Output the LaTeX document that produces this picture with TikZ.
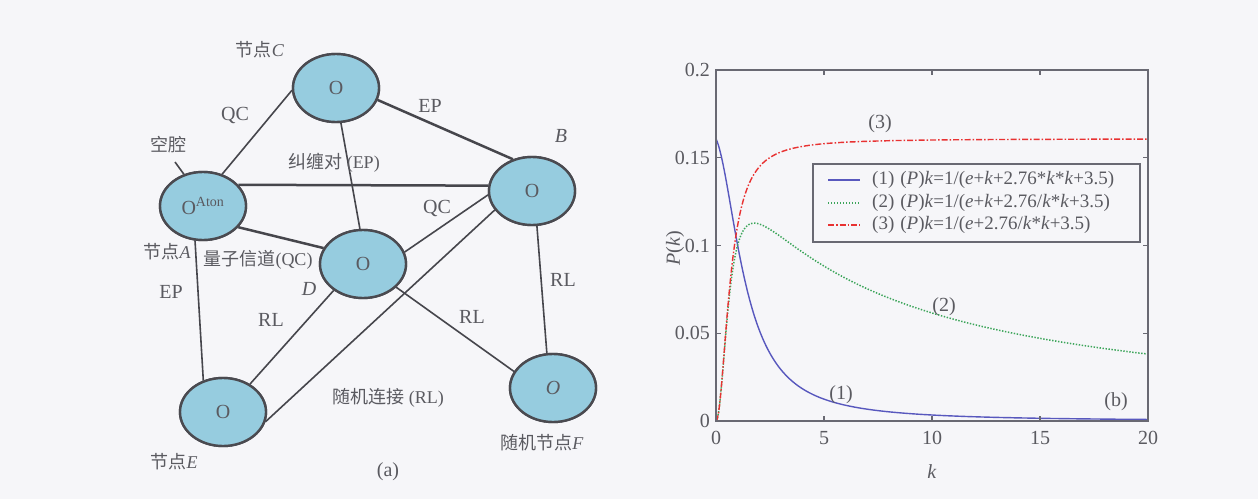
\documentclass[tikz,border=0pt]{standalone}
\usepackage{fontspec}
\setmainfont{Liberation Serif}
\newfontfamily\cjk{Noto Sans CJK SC}
\usetikzlibrary{shapes.geometric}
\definecolor{bg}{RGB}{246,246,249}
\definecolor{nodefill}{RGB}{150,204,223}
\definecolor{nodeedge}{RGB}{74,74,80}
\definecolor{edgecol}{RGB}{70,70,76}
\definecolor{txt}{RGB}{90,90,96}
\definecolor{frame}{RGB}{105,105,115}
\definecolor{cblue}{RGB}{88,88,190}
\definecolor{cgreen}{RGB}{60,165,90}
\definecolor{cred}{RGB}{232,50,50}
\tikzset{
  qnode/.style={ellipse, draw=nodeedge, line width=2.4pt, fill=nodefill,
    minimum width=86pt, minimum height=68pt, inner sep=0pt,
    font=\fontsize{20}{24}\selectfont, text=txt},
  thinedge/.style={draw=edgecol, line width=1.6pt},
  thickedge/.style={draw=edgecol, line width=2.5pt},
  lab/.style={text=txt, font=\fontsize{20}{24}\selectfont, inner sep=0pt},
  cjlab/.style={text=txt, font=\fontsize{18}{22}\selectfont, inner sep=0pt},
  ticklab/.style={text=txt, font=\fontsize{20}{24}\selectfont, inner sep=0pt},
  leglab/.style={text=txt, font=\fontsize{19}{22}\selectfont, inner sep=0pt, anchor=west},
  axframe/.style={draw=frame, line width=1.2pt},
}
\begin{document}
\begin{tikzpicture}[x=1pt,y=-1pt]
\fill[bg] (0,0) rectangle (1258,499);
\useasboundingbox (0,0) rectangle (1258,499);

% ---------- (a) network ----------
\node[qnode] (A) at (203,206) {O\textsuperscript{Aton}};
\node[qnode] (C) at (336,88) {O};
\node[qnode] (B) at (532,191) {O};
\node[qnode] (D) at (363,264) {O};
\node[qnode] (E) at (223,412) {O};
\node[qnode] (F) at (553,388) {\textit{O}};
\coordinate (cav) at (175,162);

\draw[thinedge] (A.59) -- (C.183);
\draw[thickedge] (C.-16) -- (B.121);
\draw[thinedge] (C.-82) -- (D.95);
\draw[thickedge] (A.31) -- (B.173);
\draw[thickedge] (A.-31) -- (D.158);
\draw[thinedge] (D.16) -- (B.185);
\draw[thinedge] (E.-13) -- (B.207);
\draw[thinedge] (A.-103) -- (E.122);
\draw[thinedge] (D.222) -- (E.46);
\draw[thinedge] (D.-35) -- (F.157);
\draw[thinedge] (B.-82) -- (F.100);
\draw[thinedge] (A.121) -- (cav);

% redraw nodes on top
\node[qnode] at (A) {O\textsuperscript{Aton}};
\node[qnode] at (C) {O};
\node[qnode] at (B) {O};
\node[qnode] at (D) {O};
\node[qnode] at (E) {O};
\node[qnode] at (F) {\textit{O}};

\node[cjlab] (labC) at (260,50) {{\cjk 节点}\textit{C}};
\node[lab] (qc1) at (235,115) {QC};
\node[lab] (ep1) at (430,106) {EP};
\node[lab] (labB) at (561,136) {\textit{B}};
\node[cjlab] (cavity) at (168,145) {{\cjk 空腔}};
\node[cjlab] (epair) at (334,163) {{\cjk 纠缠对} (EP)};
\node[lab] (qc2) at (437,208) {QC};
\node[cjlab, anchor=east] (labA) at (191,252) {{\cjk 节点}\textit{A}};
\node[cjlab] (qch) at (258,260) {{\cjk 量子信道}(QC)};
\node[lab] (ep2) at (171,292) {EP};
\node[lab] (labD) at (309,289) {\textit{D}};
\node[lab] (rl1) at (271,320) {RL};
\node[lab] (rl2) at (472,317) {RL};
\node[lab] (rl3) at (563,280) {RL};
\node[cjlab] (rand) at (388,398) {{\cjk 随机连接} (RL)};
\node[cjlab] (labE) at (174,462) {{\cjk 节点}\textit{E}};
\node[cjlab] (labF) at (542,443) {{\cjk 随机节点}\textit{F}};
\node[lab] (capa) at (388,472) {(a)};

% ---------- (b) plot ----------
\begin{scope}[shift={(716,421)}, x=21.6pt, y=1755pt]
  \draw[cblue, line width=1.4pt] plot[domain=0:20, samples=300, smooth] (\x,{1/(6.21828+\x+2.76*\x*\x)});
  \draw[cgreen, line width=1.5pt, dash pattern=on 1.4pt off 1.6pt] (0,0) -- plot[domain=0.05:20, samples=300, smooth] (\x,{1/(6.21828+\x+2.76/(\x*\x))});
  \draw[cred, line width=1.4pt, dash pattern=on 6pt off 2pt on 1.5pt off 2pt] (0,0) -- plot[domain=0.05:20, samples=300, smooth] (\x,{1/(6.21828+2.76/(\x*\x))});
  \draw[axframe] (0,0) rectangle (20,0.2);
  \foreach \t in {5,10,15} {
    \draw[axframe] (\t,0) -- ++(0pt,5pt);
    \draw[axframe] (\t,0.2) -- ++(0pt,-5pt);
  }
  \foreach \t in {0.05,0.1,0.15} {
    \draw[axframe] (0,\t) -- ++(5pt,0pt);
    \draw[axframe] (20,\t) -- ++(-5pt,0pt);
  }
  \foreach \t in {0,5,10,15,20} {
    \node[ticklab, anchor=north] (xt\t) at ([yshift=-10pt]\t,0) {\t};
  }
  \foreach \t/\n in {0/0,0.05/a,0.1/b,0.15/c,0.2/d} {
    \node[ticklab, anchor=east] (yt\n) at ([xshift=-6pt]0,\t) {\t};
  }
\end{scope}

\node[lab, rotate=90] (ylab) at (675,248) {\textit{P}(\textit{k})};
\node[lab] (xlab) at (932,472) {\textit{k}};
\node[lab] (c3) at (880,124) {(3)};
\node[lab] (c2) at (944,307) {(2)};
\node[lab] (c1) at (841,395) {(1)};
\node[lab] (capb) at (1116,402) {(b)};

\node[draw=frame, line width=1.2pt, minimum width=327pt, minimum height=78pt, inner sep=0pt, fill=bg] (legend) at (976.5,203) {};
\coordinate (l1a) at (828,180); \coordinate (l1b) at (860,180);
\coordinate (l2a) at (828,203); \coordinate (l2b) at (860,203);
\coordinate (l3a) at (828,225); \coordinate (l3b) at (860,225);
\draw[cblue, line width=1.4pt] (l1a) -- (l1b);
\draw[cgreen, line width=1.5pt, dash pattern=on 1.4pt off 1.6pt] (l2a) -- (l2b);
\draw[cred, line width=1.4pt, dash pattern=on 6pt off 2pt on 1.5pt off 2pt] (l3a) -- (l3b);
\node[leglab] (lg1) at (872,180) {(1)\hspace{6pt}(\textit{P})\textit{k}=1/(\textit{e}+\textit{k}+2.76*\textit{k}*\textit{k}+3.5)};
\node[leglab] (lg2) at (872,203) {(2)\hspace{6pt}(\textit{P})\textit{k}=1/(\textit{e}+\textit{k}+2.76/\textit{k}*\textit{k}+3.5)};
\node[leglab] (lg3) at (872,225) {(3)\hspace{6pt}(\textit{P})\textit{k}=1/(\textit{e}+2.76/\textit{k}*\textit{k}+3.5)};
\end{tikzpicture}
\end{document}
